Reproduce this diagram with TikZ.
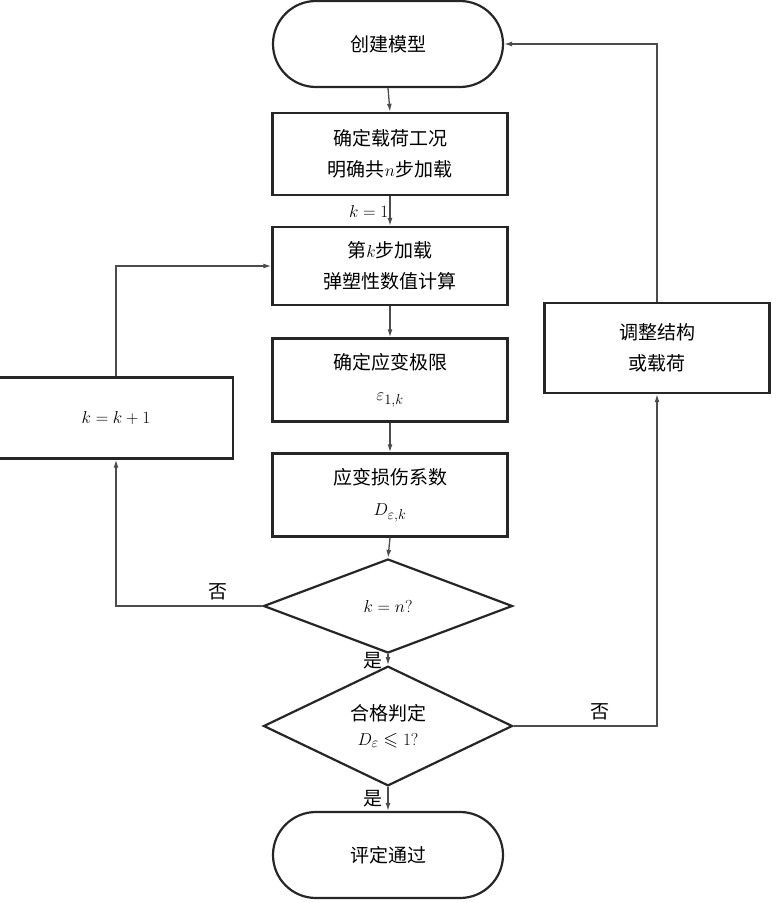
\documentclass[tikz,border=0pt]{standalone}
\usepackage{amssymb}
\usepackage{fontspec}
\newfontfamily\cjk{Noto Sans CJK SC}
\usetikzlibrary{shapes.geometric,shapes.misc,arrows.meta}
\begin{document}
\begin{tikzpicture}[x=1pt,y=-1pt,
  font=\fontsize{19}{31}\selectfont\cjk,
  boxst/.style={draw=black!85,line width=2.4pt,rectangle,minimum width=235,minimum height=82,align=center,inner sep=0},
  termst/.style={draw=black!85,line width=2.2pt,rounded rectangle,minimum width=230,minimum height=86,align=center,inner sep=0},
  decst/.style={draw=black!85,line width=2.2pt,diamond,minimum width=249,minimum height=94,align=center,inner sep=0},
  conn/.style={draw=black!70,line width=1.3pt,-{Latex[length=8pt,width=5pt]}},
  lbl/.style={inner sep=1pt}]
\useasboundingbox (0,0) rectangle (771,902);
\node[termst] (start) at (388,44) {创建模型};
\node[boxst] (b1) at (390,154) {确定载荷工况\\明确共$n$步加载};
\node[boxst,minimum height=78] (b2) at (390,266) {第$k$步加载\\弹塑性数值计算};
\node[boxst,minimum height=83] (b3) at (390,380) {确定应变极限\\$\varepsilon_{1,k}$};
\node[boxst,minimum height=83] (b4) at (390,495) {应变损伤系数\\$D_{\varepsilon,k}$};
\node[decst] (d1) at (388,606) {$k=n?$};
\node[decst,minimum height=95] (d2) at (388,726) {合格判定\\[-6pt]$D_\varepsilon\leqslant 1?$};
\node[termst] (end) at (388,855) {评定通过};
\node[boxst,minimum width=234,minimum height=81] (lb) at (116,418) {$k=k+1$};
\node[boxst,minimum width=225,minimum height=90] (rb) at (657,348) {调整结构\\或载荷};

\draw[conn] (start.south) -- (b1.north);
\draw[conn] (b1.south) -- node[lbl,left] {$k=1$} (b2.north);
\draw[conn] (b2.south) -- (b3.north);
\draw[conn] (b3.south) -- (b4.north);
\draw[conn] (b4.south) -- (d1.north);
\draw[conn] (d1.south) -- node[lbl,left=4pt,pos=0.6] {是} (d2.north);
\draw[conn] (d2.south) -- node[lbl,left=4pt] {是} (end.north);
\draw[conn] (d1.west) -| node[lbl,pos=0.15,above=4pt] {否} (lb.south);
\draw[conn] (lb.north) |- (b2.west);
\draw[conn] (d2.east) -| node[lbl,pos=0.3,above=4pt] {否} (rb.south);
\draw[conn] (rb.north) |- (start.east);
\end{tikzpicture}
\end{document}
